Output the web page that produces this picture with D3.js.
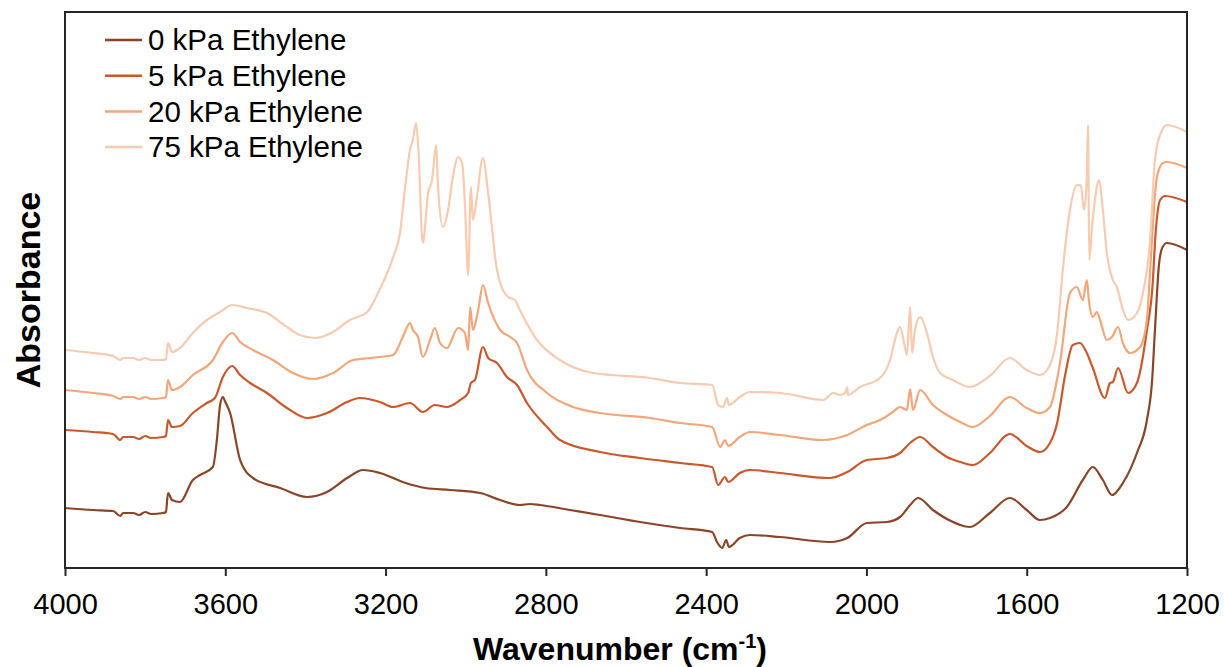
<!DOCTYPE html>
<html>
<head>
<meta charset="utf-8">
<script src="https://cdn.jsdelivr.net/npm/d3@7"></script>
<style>
  body { margin: 0; background: #fff; }
  svg { display: block; font-family: 'Liberation Sans', Arial, sans-serif; }
</style>
</head>
<body>
<div id="chart"></div>
<script>
// spectra: [wavenumber (cm-1), absorbance (a.u., offset)]
const kpa0 = [
  [4000, 0.60], [3930, 0.58], [3880, 0.57], [3862, 0.52], [3855, 0.55], [3830, 0.55], [3815, 0.53],
  [3800, 0.56], [3785, 0.54], [3755, 0.55],
  [3748, 0.56], [3743, 0.75], [3733, 0.68], [3713, 0.66], [3681, 0.88], [3663, 0.93], [3631, 1.01],
  [3621, 1.28], [3613, 1.63], [3606, 1.71], [3600, 1.66], [3588, 1.55], [3563, 1.08], [3531, 0.90],
  [3463, 0.80], [3396, 0.71], [3346, 0.76], [3296, 0.90], [3256, 0.98], [3214, 0.95], [3150, 0.85],
  [3100, 0.80], [3039, 0.78], [2964, 0.75], [2914, 0.68], [2865, 0.63], [2840, 0.64], [2815, 0.63],
  [2740, 0.58], [2665, 0.53], [2565, 0.46], [2465, 0.40], [2385, 0.36], [2373, 0.26], [2360, 0.20],
  [2350, 0.28], [2343, 0.21], [2316, 0.30], [2291, 0.33], [2216, 0.31], [2091, 0.26], [2048, 0.30],
  [1999, 0.45], [1949, 0.46], [1916, 0.51], [1891, 0.63], [1871, 0.70], [1834, 0.58], [1799, 0.49],
  [1742, 0.41], [1692, 0.55], [1642, 0.70], [1600, 0.58], [1567, 0.48], [1542, 0.50],
  [1500, 0.61], [1460, 0.88], [1435, 1.01], [1410, 0.88], [1387, 0.73], [1360, 0.85], [1325, 1.15],
  [1300, 1.48], [1287, 1.88], [1280, 2.38], [1270, 3.03], [1262, 3.20], [1250, 3.25], [1200, 3.18]
];

const kpa5 = [
  [4000, 1.38], [3930, 1.36], [3880, 1.34], [3862, 1.28], [3855, 1.31], [3830, 1.31], [3815, 1.29],
  [3800, 1.32], [3785, 1.30], [3755, 1.31],
  [3748, 1.32], [3743, 1.48], [3733, 1.41], [3713, 1.42], [3681, 1.55], [3646, 1.65], [3626, 1.70],
  [3606, 1.91], [3583, 2.02], [3563, 1.93], [3538, 1.85], [3496, 1.75], [3446, 1.60], [3396, 1.50],
  [3346, 1.55], [3296, 1.66], [3264, 1.70], [3214, 1.66], [3181, 1.61], [3139, 1.65], [3107, 1.56],
  [3077, 1.63], [3047, 1.61], [3014, 1.68], [2994, 1.75], [2987, 1.85], [2977, 1.88], [2957, 2.21],
  [2944, 2.10], [2922, 2.05], [2897, 1.91], [2872, 1.83], [2847, 1.65], [2797, 1.41], [2765, 1.28],
  [2665, 1.16], [2565, 1.10], [2465, 1.05], [2385, 1.01], [2370, 0.83], [2353, 0.91], [2345, 0.86],
  [2316, 0.95], [2291, 0.98], [2216, 0.95], [2091, 0.90], [2048, 0.96], [1999, 1.08], [1949, 1.10],
  [1916, 1.15], [1891, 1.25], [1866, 1.31], [1834, 1.21], [1799, 1.11], [1766, 1.06], [1734, 1.03],
  [1692, 1.15], [1642, 1.34], [1600, 1.22], [1567, 1.16], [1542, 1.25], [1524, 1.45], [1505, 1.91],
  [1485, 2.23], [1467, 2.25], [1450, 2.15], [1435, 2.00], [1405, 1.70], [1392, 1.85], [1385, 1.86],
  [1372, 2.00], [1347, 1.75], [1325, 1.85], [1300, 2.38], [1285, 2.88], [1280, 3.25], [1267, 3.68],
  [1255, 3.72], [1200, 3.66]
];

const kpa20 = [
  [4000, 1.78], [3930, 1.75], [3880, 1.72], [3862, 1.69], [3855, 1.71], [3830, 1.71], [3815, 1.69],
  [3800, 1.71], [3785, 1.69], [3755, 1.70],
  [3748, 1.71], [3743, 1.88], [3733, 1.78], [3713, 1.81], [3681, 1.93], [3631, 2.08], [3606, 2.26],
  [3583, 2.35], [3563, 2.26], [3531, 2.18], [3481, 2.08], [3431, 1.95], [3381, 1.89], [3331, 1.95],
  [3281, 2.08], [3239, 2.10], [3181, 2.13], [3157, 2.31], [3139, 2.45], [3132, 2.38], [3119, 2.31],
  [3107, 2.11], [3089, 2.28], [3077, 2.40], [3064, 2.25], [3047, 2.20], [3019, 2.40], [3002, 2.35],
  [2994, 2.18], [2989, 2.61], [2982, 2.38], [2969, 2.58], [2957, 2.83], [2944, 2.65], [2914, 2.38],
  [2889, 2.31], [2872, 2.25], [2847, 1.98], [2797, 1.75], [2732, 1.61], [2665, 1.55], [2540, 1.50],
  [2465, 1.45], [2385, 1.41], [2365, 1.21], [2353, 1.28], [2345, 1.22], [2316, 1.31], [2291, 1.36],
  [2216, 1.33], [2108, 1.28], [2048, 1.33], [1999, 1.43], [1966, 1.48], [1934, 1.56], [1916, 1.61],
  [1899, 1.58], [1891, 1.79], [1884, 1.58], [1866, 1.78], [1834, 1.63], [1799, 1.53], [1766, 1.46],
  [1734, 1.41], [1692, 1.52], [1642, 1.71], [1600, 1.60], [1567, 1.55], [1542, 1.61], [1517, 2.05],
  [1492, 2.75], [1475, 2.81], [1460, 2.68], [1450, 2.88], [1445, 2.68], [1435, 2.51], [1425, 2.56],
  [1417, 2.48], [1400, 2.28], [1387, 2.31], [1372, 2.41], [1360, 2.25], [1342, 2.15], [1317, 2.21],
  [1300, 2.48], [1292, 2.98], [1275, 3.91], [1260, 4.05], [1250, 4.06], [1200, 4.00]
];

const kpa75 = [
  [4000, 2.18], [3930, 2.15], [3880, 2.12], [3862, 2.08], [3855, 2.10], [3830, 2.10], [3815, 2.08],
  [3800, 2.10], [3785, 2.08], [3755, 2.08],
  [3748, 2.09], [3743, 2.25], [3733, 2.16], [3713, 2.20], [3681, 2.35], [3646, 2.48], [3613, 2.56],
  [3583, 2.63], [3546, 2.60], [3496, 2.55], [3446, 2.41], [3414, 2.33], [3376, 2.30], [3331, 2.36],
  [3289, 2.48], [3246, 2.56], [3219, 2.75], [3181, 3.11], [3164, 3.35], [3152, 3.78], [3139, 4.18],
  [3132, 4.28], [3124, 4.45], [3119, 4.25], [3107, 3.25], [3094, 3.75], [3084, 3.88], [3074, 4.23],
  [3069, 3.81], [3057, 3.41], [3044, 3.58], [3032, 3.91], [3019, 4.11], [3009, 4.05], [3002, 3.65],
  [2994, 2.93], [2987, 3.81], [2982, 3.48], [2972, 3.71], [2957, 4.10], [2944, 3.75], [2922, 2.98],
  [2914, 2.85], [2894, 2.71], [2877, 2.68], [2865, 2.58], [2822, 2.28], [2765, 2.08], [2682, 1.95],
  [2540, 1.90], [2465, 1.85], [2385, 1.83], [2370, 1.63], [2358, 1.61], [2348, 1.70], [2343, 1.63],
  [2316, 1.71], [2291, 1.76], [2216, 1.75], [2108, 1.68], [2083, 1.75], [2066, 1.73], [2053, 1.75],
  [2048, 1.81], [2046, 1.73], [2016, 1.81], [1966, 1.90], [1941, 2.08], [1924, 2.35], [1916, 2.41],
  [1904, 2.21], [1899, 2.13], [1891, 2.61], [1886, 2.15], [1879, 2.38], [1866, 2.51], [1849, 2.35],
  [1834, 2.11], [1816, 1.95], [1784, 1.88], [1742, 1.81], [1692, 1.92], [1642, 2.10], [1600, 1.98],
  [1567, 1.93], [1542, 2.03], [1524, 2.35], [1510, 2.98], [1492, 3.58], [1475, 3.83], [1465, 3.83],
  [1457, 3.58], [1450, 3.90], [1447, 4.43], [1444, 3.08], [1437, 3.41], [1425, 3.81], [1420, 3.88],
  [1410, 3.58], [1400, 3.15], [1385, 2.88], [1375, 2.81], [1362, 2.61], [1347, 2.48], [1325, 2.55],
  [1310, 2.75], [1292, 3.28], [1280, 4.08], [1262, 4.38], [1250, 4.43], [1200, 4.36]
];

const seriesNames = ['0 kPa Ethylene', '5 kPa Ethylene', '20 kPa Ethylene', '75 kPa Ethylene'];
const seriesData = [kpa0, kpa5, kpa20, kpa75];
const seriesColors = ['#8a4526', '#c9592c', '#f2a679', '#f8cbb0'];
const xTicks = [4000, 3600, 3200, 2800, 2400, 2000, 1600, 1200];

const width = 1224;
const height = 667;
const margin = { top: 12, right: 37, bottom: 99, left: 65 };

const svg = d3.select('#chart')
  .append('svg')
  .attr('width', width)
  .attr('height', height);

const x = d3.scaleLinear()
  .domain([4000, 1200])
  .range([margin.left, width - margin.right]);

const y = d3.scaleLinear()
  .domain([0, 5.56])
  .range([height - margin.bottom, margin.top]);

const line = d3.line()
  .x(d => x(d[0]))
  .y(d => y(d[1]))
  .curve(d3.curveMonotoneX);

// spectra
svg.append('g')
  .selectAll('path')
  .data(seriesData)
  .join('path')
  .attr('d', line)
  .attr('fill', 'none')
  .attr('stroke', (d, i) => seriesColors[i])
  .attr('stroke-width', 2.2)
  .attr('stroke-linejoin', 'round');

// frame
svg.append('rect')
  .attr('x', margin.left)
  .attr('y', margin.top)
  .attr('width', width - margin.left - margin.right)
  .attr('height', height - margin.top - margin.bottom)
  .attr('fill', 'none')
  .attr('stroke', '#262626')
  .attr('stroke-width', 2);

// x axis
const xAxis = svg.append('g')
  .attr('transform', `translate(0, ${height - margin.bottom})`)
  .call(d3.axisBottom(x).tickValues(xTicks).tickSize(8).tickPadding(17).tickFormat(d3.format('d')));

xAxis.select('.domain').remove();
xAxis.selectAll('.tick line').attr('stroke', '#262626').attr('stroke-width', 2);
xAxis.selectAll('.tick text')
  .attr('fill', '#000')
  .style('font-size', '29px')
  .style('font-family', "'Liberation Sans', Arial, sans-serif");

// axis titles
const xTitle = svg.append('text')
  .attr('x', 620)
  .attr('y', 660)
  .attr('text-anchor', 'middle')
  .style('font-size', '32px')
  .style('font-weight', 'bold');
xTitle.append('tspan').text('Wavenumber (cm');
xTitle.append('tspan').attr('dy', -12).style('font-size', '20px').text('-1');
xTitle.append('tspan').attr('dy', 12).text(')');

svg.append('text')
  .attr('transform', 'translate(40, 290) rotate(-90)')
  .attr('text-anchor', 'middle')
  .style('font-size', '34px')
  .style('font-weight', 'bold')
  .text('Absorbance');

// legend
const legend = svg.selectAll('.legend')
  .data(seriesNames)
  .join('g')
  .attr('class', 'legend')
  .attr('transform', (d, i) => `translate(105, ${40 + i * 35.7})`);

legend.append('line')
  .attr('x1', 0)
  .attr('x2', 37)
  .attr('stroke', (d, i) => seriesColors[i])
  .attr('stroke-width', 2.5);

legend.append('text')
  .attr('x', 43)
  .attr('dy', '0.35em')
  .style('font-size', '29.5px')
  .text(d => d);
</script>
</body>
</html>
